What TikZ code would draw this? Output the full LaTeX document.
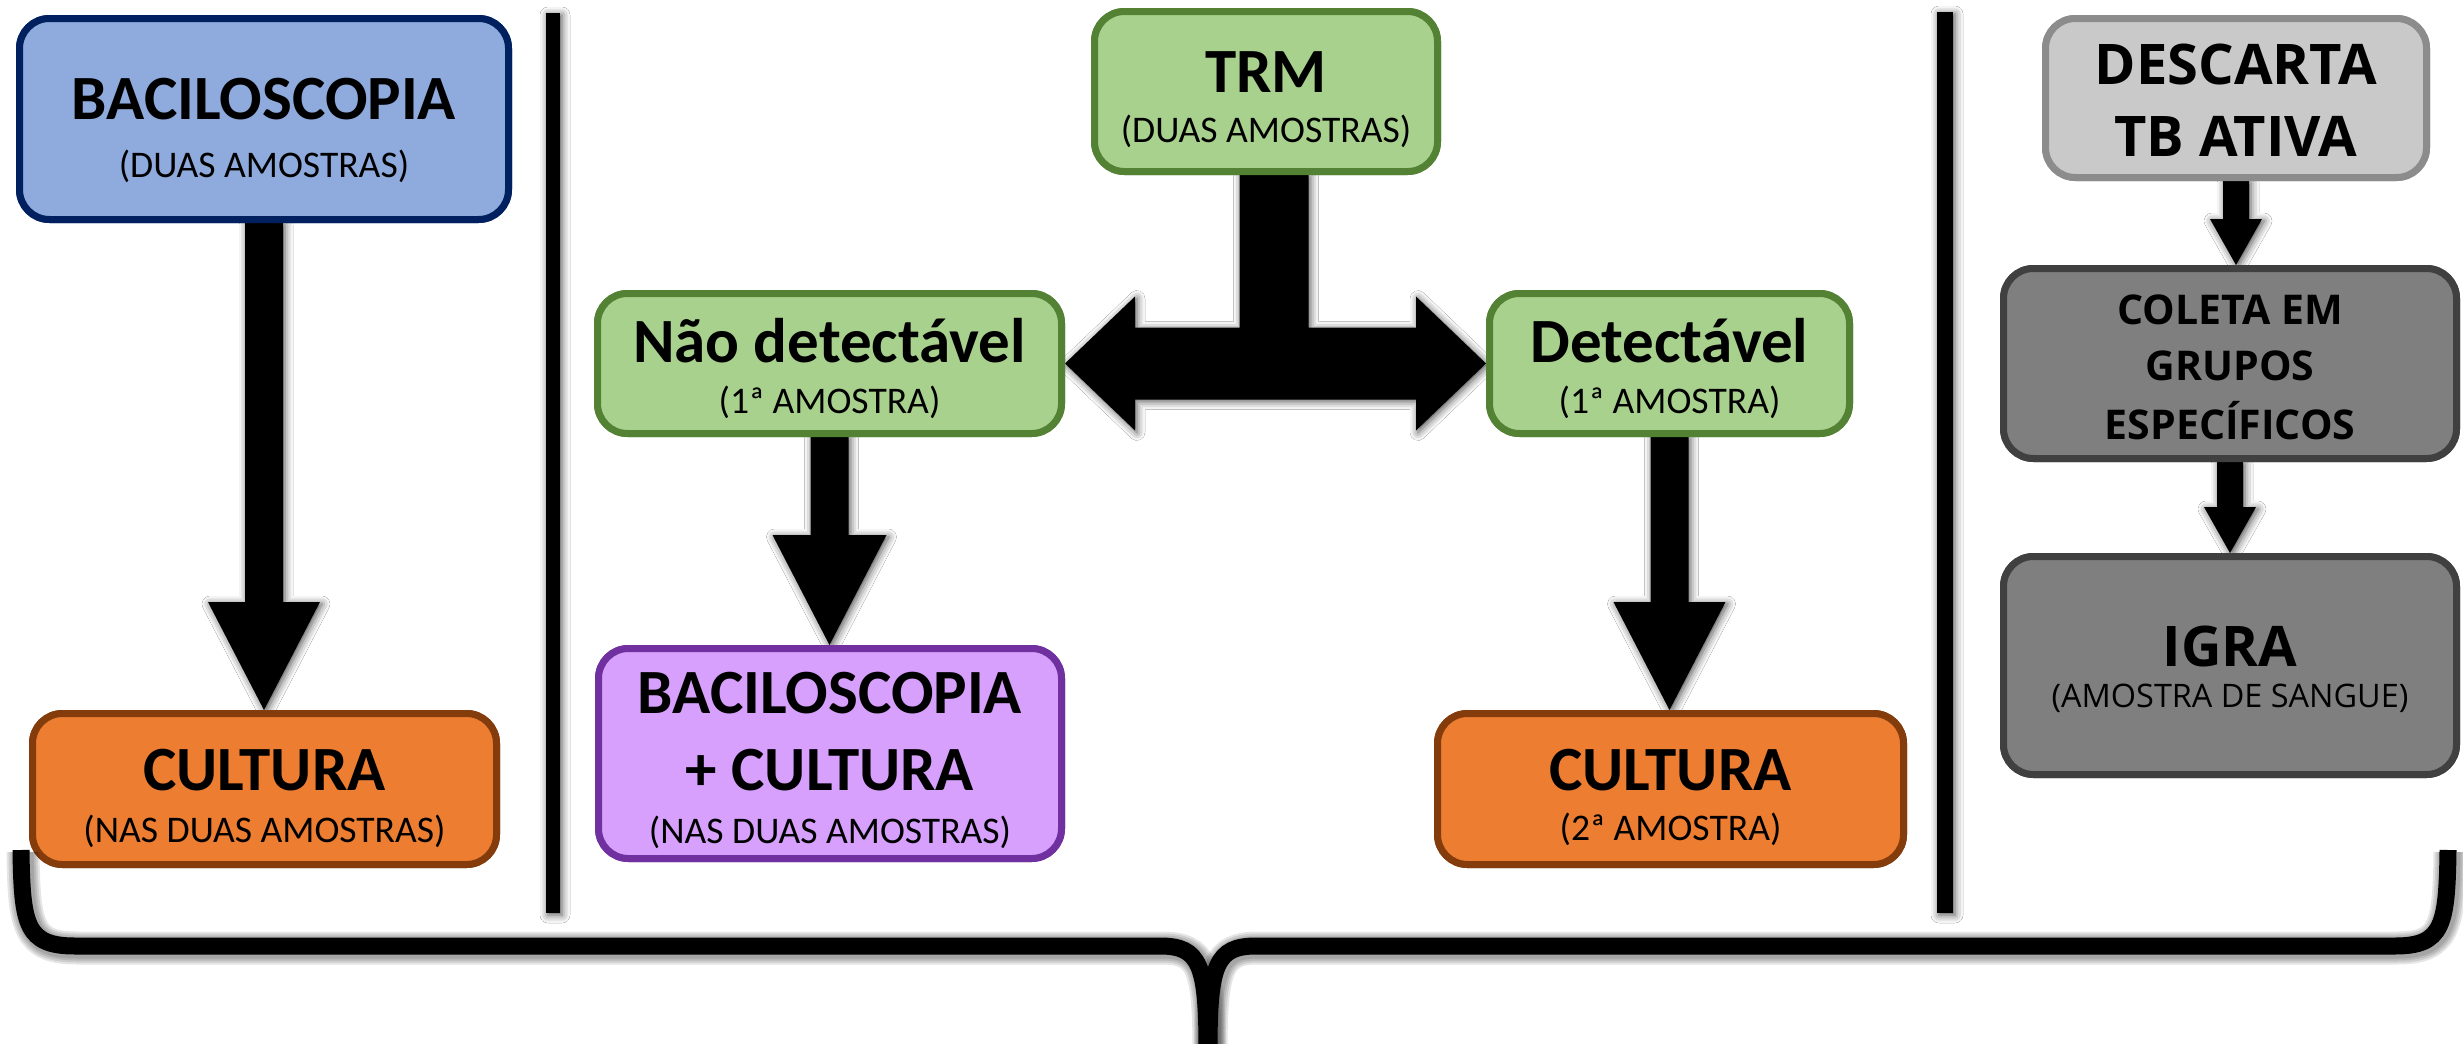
\documentclass[tikz,border=0pt]{standalone}
\usepackage{fontspec}
\setmainfont{Carlito}
\newfontfamily\osans{Open Sans}
\usetikzlibrary{calc,shadows.blur}

\definecolor{bluefill}{HTML}{8FAADC}
\definecolor{blueline}{HTML}{002060}
\definecolor{greenfill}{HTML}{A9D18E}
\definecolor{greenline}{HTML}{548235}
\definecolor{orangefill}{HTML}{ED7D31}
\definecolor{orangeline}{HTML}{843C0C}
\definecolor{purplefill}{HTML}{D6A0FC}
\definecolor{purpleline}{HTML}{7030A0}
\definecolor{paleboxfill}{HTML}{C9C9C9}
\definecolor{paleboxline}{HTML}{8C8C8C}
\definecolor{darkboxfill}{HTML}{7F7F7F}
\definecolor{darkboxline}{HTML}{404040}

\newcommand\ttlfont{\fontsize{31.5}{36}\selectfont\bfseries}
\newcommand\subfont{\fontsize{18.8}{22}\selectfont}
\newcommand\rttlfont{\osans\bfseries\fontsize{28}{32}\selectfont}
\newcommand\rmidfont{\osans\bfseries\fontsize{20.5}{24}\selectfont}
\newcommand\rsubfont{\osans\fontsize{16.2}{19}\selectfont}

\tikzset{
  bx/.style={rectangle, rounded corners=15pt, line width=3.5pt, inner sep=0pt},
  ttl/.style={anchor=base, inner sep=0pt, font=\ttlfont},
  sub/.style={anchor=base, inner sep=0pt, font=\subfont},
  rttl/.style={anchor=base, inner sep=0pt, font=\rttlfont},
  rmid/.style={anchor=base, inner sep=0pt, font=\rmidfont},
  rsub/.style={anchor=base, inner sep=0pt, font=\rsubfont},
  softshadow/.style={blur shadow={shadow xshift=1pt, shadow yshift=-1pt,
      shadow blur radius=4pt, shadow opacity=70}},
  blockarrow/.style={fill=black, softshadow},
  bracestroke/.style={line width=8.5pt, draw=black},
}

% downward block arrow from the south of #1 to the north of #2
% #3 half shaft width, #4 half head width, #5 head length (picture units)
\newcommand\blkdown[5]{%
  \path[blockarrow] let \p1=(#1.south), \p2=(#2.north),
      \n1={#3*0.5pt}, \n2={#4*0.5pt}, \n3={#5*0.5pt} in
    (\x1-\n1,\y1) -- (\x1-\n1,\y2+\n3) -- (\x1-\n2,\y2+\n3) -- (\x1,\y2)
    -- (\x1+\n2,\y2+\n3) -- (\x1+\n1,\y2+\n3) -- (\x1+\n1,\y1) -- cycle;}

% the long brace, as two halves meeting at the centre stem
\newcommand\braceleft{(21,850) .. controls (22,925) and (26,946) .. (75,946)
  -- (1160,946) .. controls (1200,946) and (1207,965) .. (1207,1050)}
\newcommand\braceright{(2448,850) .. controls (2447,925) and (2443,946) .. (2395,946)
  -- (1256,946) .. controls (1216,946) and (1209,965) .. (1209,1050)}

\begin{document}
\begin{tikzpicture}[x=0.5pt, y=-0.5pt]
\fill[white] (0,0) rectangle (2463,1044);
\useasboundingbox (0,0) rectangle (2463,1044);

% boxes (placed first so the arrows can refer to them)
\path
  node[bx, fill=bluefill, draw=blueline, minimum width=244.5pt, minimum height=100.5pt] (bac) at (264,119) {}
  node[bx, fill=orangefill, draw=orangeline, minimum width=232pt, minimum height=75.5pt] (cultL) at (264.5,789) {}
  node[bx, fill=greenfill, draw=greenline, minimum width=171.5pt, minimum height=80pt] (trm) at (1266,91.5) {}
  node[bx, fill=greenfill, draw=greenline, minimum width=232pt, minimum height=70pt] (nd) at (829.5,363.5) {}
  node[bx, fill=greenfill, draw=greenline, minimum width=180pt, minimum height=70pt] (det) at (1669.5,363.5) {}
  node[bx, fill=purplefill, draw=purpleline, minimum width=231.5pt, minimum height=105pt] (bc) at (830,753.5) {}
  node[bx, fill=orangefill, draw=orangeline, minimum width=233pt, minimum height=75.5pt] (cultR) at (1670.5,789) {}
  node[bx, fill=paleboxfill, draw=paleboxline, minimum width=190.5pt, minimum height=79.5pt] (desc) at (2236,98) {}
  node[bx, fill=darkboxfill, draw=darkboxline, minimum width=226.5pt, minimum height=95pt] (coleta) at (2230,363.5) {}
  node[bx, fill=darkboxfill, draw=darkboxline, minimum width=226.5pt, minimum height=109pt] (igra) at (2230,665.5) {};

% separators
\fill[black, softshadow] (546,13) rectangle (560,913);
\fill[black, softshadow] (1937,12) rectangle (1953,913);

% arrows
\blkdown{bac}{cultL}{19}{56}{108}
\blkdown{nd}{bc}{19}{57}{110}
\blkdown{det}{cultR}{19}{56}{108}
\blkdown{desc}{coleta}{13}{26}{46}
\blkdown{coleta}{igra}{13}{26}{46}

% T-shaped double arrow from TRM to both results
\path[blockarrow] let \p1=(trm.south), \p2=(nd.east), \p3=(det.west),
    \n1={34.5*0.5pt}, \n2={36*0.5pt}, \n3={67*0.5pt}, \n4={70*0.5pt}, \n5={8*0.5pt} in
  (\x1+\n5-\n1,\y1) -- (\x1+\n5-\n1,\y2+\n2) -- (\x2+\n4,\y2+\n2) -- (\x2+\n4,\y2+\n3)
  -- (\x2,\y2) -- (\x2+\n4,\y2-\n3) -- (\x2+\n4,\y2-\n2) -- (\x3-\n4,\y2-\n2)
  -- (\x3-\n4,\y2-\n3) -- (\x3,\y2) -- (\x3-\n4,\y2+\n3) -- (\x3-\n4,\y2+\n2)
  -- (\x1+\n5+\n1,\y2+\n2) -- (\x1+\n5+\n1,\y1) -- cycle;

% redraw the boxes on top of arrow shafts and shadows
\path
  node[bx, fill=bluefill, draw=blueline, minimum width=244.5pt, minimum height=100.5pt] (bacB) at (bac) {}
  node[bx, fill=orangefill, draw=orangeline, minimum width=232pt, minimum height=75.5pt] (cultLB) at (cultL) {}
  node[bx, fill=greenfill, draw=greenline, minimum width=171.5pt, minimum height=80pt] (trmB) at (trm) {}
  node[bx, fill=greenfill, draw=greenline, minimum width=232pt, minimum height=70pt] (ndB) at (nd) {}
  node[bx, fill=greenfill, draw=greenline, minimum width=180pt, minimum height=70pt] (detB) at (det) {}
  node[bx, fill=purplefill, draw=purpleline, minimum width=231.5pt, minimum height=105pt] (bcB) at (bc) {}
  node[bx, fill=orangefill, draw=orangeline, minimum width=233pt, minimum height=75.5pt] (cultRB) at (cultR) {}
  node[bx, fill=paleboxfill, draw=paleboxline, minimum width=190.5pt, minimum height=79.5pt] (descB) at (desc) {}
  node[bx, fill=darkboxfill, draw=darkboxline, minimum width=226.5pt, minimum height=95pt] (coletaB) at (coleta) {}
  node[bx, fill=darkboxfill, draw=darkboxline, minimum width=226.5pt, minimum height=109pt] (igraB) at (igra) {};

% texts
\node[ttl] (bacT) at (264,119) {BACILOSCOPIA};
\node[sub] (bacS) at (264,177) {(DUAS AMOSTRAS)};
\node[ttl] (cultLT) at (264.5,790) {CULTURA};
\node[sub] (cultLS) at (264.5,842) {(NAS DUAS AMOSTRAS)};
\node[ttl] (trmT) at (1266,92) {TRM};
\node[sub] (trmS) at (1266,142) {(DUAS AMOSTRAS)};
\node[ttl] (ndT) at (829.5,362) {Não detectável};
\node[sub] (ndS) at (829.5,413) {(1ª AMOSTRA)};
\node[ttl] (detT) at (1669.5,362) {Detectável};
\node[sub] (detS) at (1669.5,413) {(1ª AMOSTRA)};
\node[ttl] (bcT1) at (830,713) {BACILOSCOPIA};
\node[ttl] (bcT2) at (830,790) {+ CULTURA};
\node[sub] (bcS) at (830,843) {(NAS DUAS AMOSTRAS)};
\node[ttl] (cultRT) at (1670.5,790) {CULTURA};
\node[sub] (cultRS) at (1670.5,840) {(2ª AMOSTRA)};
\node[rttl] (descT1) at (2236,84) {DESCARTA};
\node[rttl] (descT2) at (2236,156) {TB ATIVA};
\node[rmid] (coletaT1) at (2230,324) {COLETA EM};
\node[rmid] (coletaT2) at (2230,380) {GRUPOS};
\node[rmid] (coletaT3) at (2230,439) {ESPECÍFICOS};
\node[rttl] (igraT) at (2230,666) {IGRA};
\node[rsub] (igraS) at (2230,707) {(AMOSTRA DE SANGUE)};

% brace with a soft halo beneath it
\begin{scope}[shift={(2,2)}]
  \foreach \w in {16.5,14.5,12.5,10.5}{
    \draw[line width=\w pt, draw=black, opacity=0.1] \braceleft;
    \draw[line width=\w pt, draw=black, opacity=0.1] \braceright;
  }
\end{scope}
\draw[bracestroke] \braceleft;
\draw[bracestroke] \braceright;
\end{tikzpicture}
\end{document}
